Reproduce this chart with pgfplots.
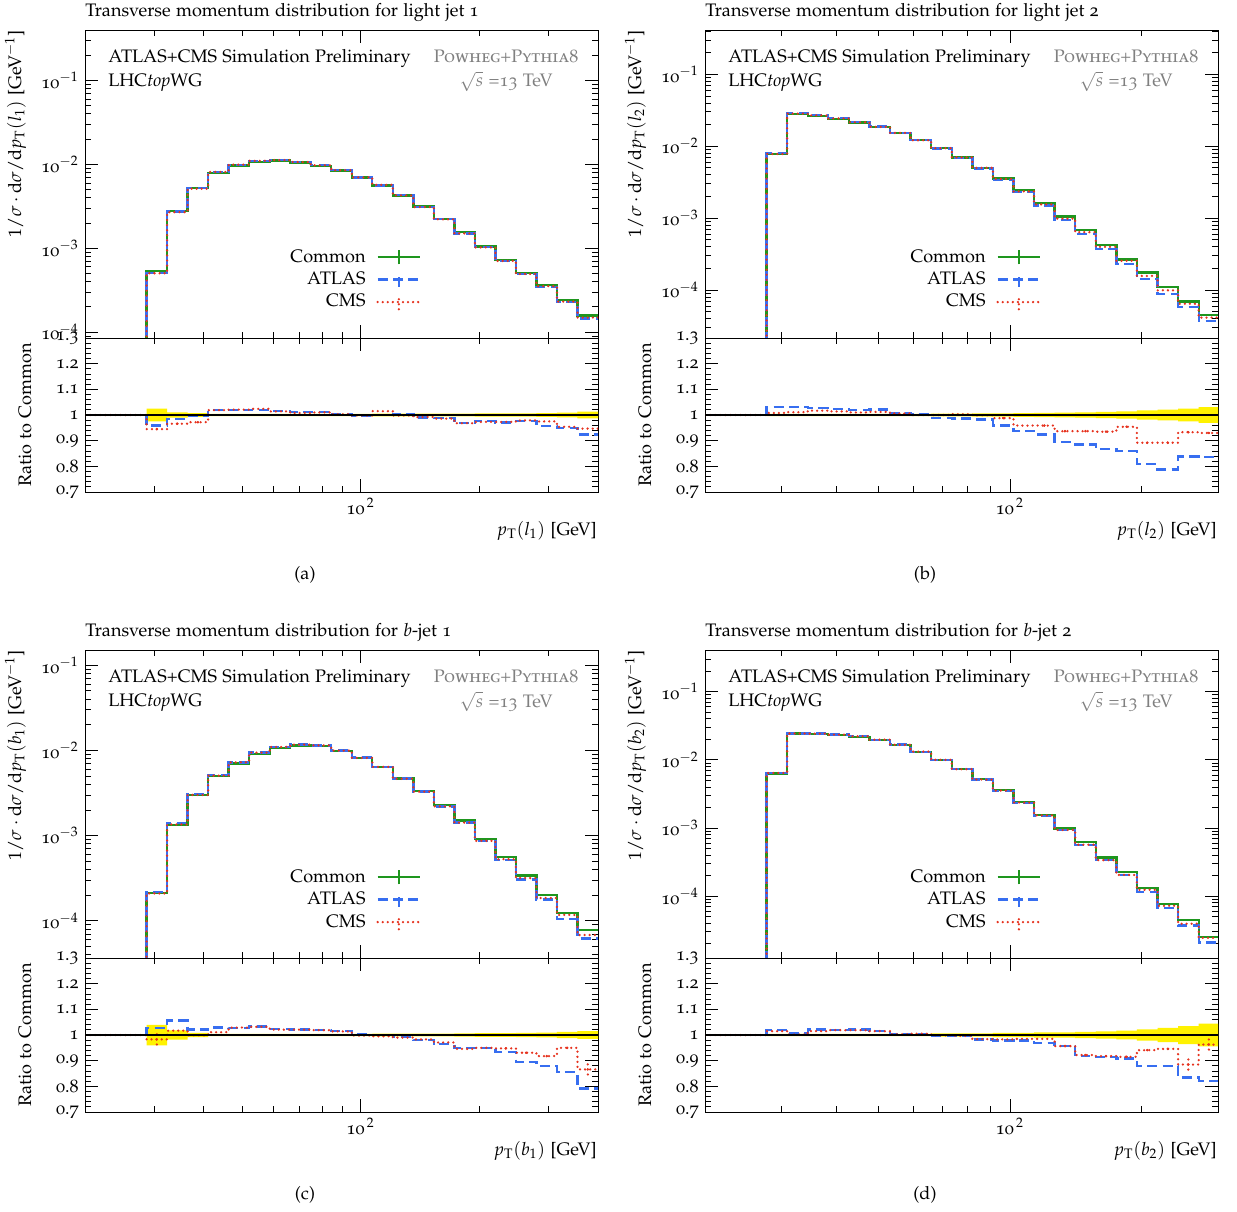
\documentclass[border=0pt]{standalone}
\usepackage[T1]{fontenc}
\usepackage[osf,sc]{mathpazo}
\usepackage{pgfplots}
\usepackage{pgfplotstable}
\pgfplotsset{compat=1.18}

\definecolor{cgreen}{RGB}{30,150,30}
\definecolor{cblue}{RGB}{55,110,240}
\definecolor{cred}{RGB}{230,50,30}
\definecolor{cgray}{RGB}{128,128,128}

% ---------------- data: light jet 1 ----------------
\pgfplotstableread{
x c a m
28.65 1e-9 1e-9 1e-9
28.65 5.32e-4 5.10e-4 5.03e-4
32.30 2.78e-3 2.74e-3 2.69e-3
36.41 5.27e-3 5.25e-3 5.12e-3
41.05 7.96e-3 8.11e-3 8.11e-3
46.27 9.73e-3 9.91e-3 9.93e-3
52.16 1.076e-2 1.096e-2 1.102e-2
58.80 1.107e-2 1.124e-2 1.123e-2
66.29 1.057e-2 1.070e-2 1.065e-2
74.73 9.64e-3 9.76e-3 9.74e-3
84.24 8.48e-3 8.50e-3 8.51e-3
94.97 7.00e-3 6.99e-3 6.99e-3
107.06 5.62e-3 5.62e-3 5.70e-3
120.69 4.27e-3 4.28e-3 4.26e-3
136.05 3.13e-3 3.10e-3 3.10e-3
153.37 2.24e-3 2.22e-3 2.21e-3
172.90 1.55e-3 1.50e-3 1.50e-3
194.91 1.05e-3 1.026e-3 1.022e-3
219.72 7.26e-4 7.05e-4 7.06e-4
247.69 5.04e-4 4.92e-4 4.93e-4
279.22 3.62e-4 3.46e-4 3.53e-4
314.77 2.42e-4 2.30e-4 2.31e-4
354.84 1.57e-4 1.45e-4 1.49e-4
400 1.57e-4 1.45e-4 1.49e-4
}\mainA
\pgfplotstableread{
x ra rm
20 1 1
28.65 0.959 0.945
32.30 0.985 0.966
36.41 0.997 0.972
41.05 1.019 1.019
46.27 1.019 1.021
52.16 1.019 1.024
58.80 1.015 1.014
66.29 1.012 1.008
74.73 1.012 1.010
84.24 1.002 1.003
94.97 0.998 0.998
107.06 1.000 1.015
120.69 1.002 0.998
136.05 0.990 0.992
153.37 0.989 0.986
172.90 0.968 0.968
194.91 0.977 0.973
219.72 0.971 0.973
247.69 0.976 0.979
279.22 0.957 0.975
314.77 0.949 0.954
354.84 0.924 0.947
400 0.924 0.947
}\ratA
% ---------------- data: light jet 2 ----------------
\pgfplotstableread{
x c a m
27.68 1e-9 1e-9 1e-9
27.68 7.74e-3 7.99e-3 7.80e-3
30.85 2.81e-2 2.90e-2 2.84e-2
34.39 2.64e-2 2.71e-2 2.68e-2
38.34 2.40e-2 2.46e-2 2.43e-2
42.74 2.13e-2 2.17e-2 2.15e-2
47.64 1.84e-2 1.88e-2 1.86e-2
53.11 1.52e-2 1.53e-2 1.53e-2
59.20 1.21e-2 1.21e-2 1.21e-2
65.99 9.38e-3 9.28e-3 9.38e-3
73.57 6.96e-3 6.86e-3 6.98e-3
82.01 5.00e-3 4.92e-3 5.00e-3
91.42 3.55e-3 3.40e-3 3.51e-3
101.91 2.45e-3 2.30e-3 2.35e-3
113.60 1.62e-3 1.50e-3 1.55e-3
126.64 1.05e-3 9.41e-4 9.84e-4
141.17 6.81e-4 6.03e-4 6.38e-4
157.36 4.26e-4 3.70e-4 3.98e-4
175.42 2.67e-4 2.29e-4 2.55e-4
195.55 1.76e-4 1.42e-4 1.57e-4
217.99 1.11e-4 8.75e-5 9.90e-5
243.00 6.89e-5 5.78e-5 6.43e-5
270.88 4.45e-5 3.72e-5 4.14e-5
300 4.45e-5 3.72e-5 4.14e-5
}\mainB
\pgfplotstableread{
x ra rm
20 1 1
27.68 1.032 1.008
30.85 1.032 1.011
34.39 1.027 1.017
38.34 1.024 1.014
42.74 1.020 1.010
47.64 1.021 1.012
53.11 1.008 1.006
59.20 1.002 1.000
65.99 0.989 1.000
73.57 0.986 1.003
82.01 0.983 0.999
91.42 0.959 0.988
101.91 0.937 0.959
113.60 0.924 0.959
126.64 0.896 0.937
141.17 0.885 0.937
157.36 0.868 0.935
175.42 0.859 0.954
195.55 0.808 0.892
217.99 0.788 0.892
243.00 0.839 0.933
270.88 0.837 0.930
300 0.837 0.930
}\ratB
% ---------------- data: b-jet 1 ----------------
\pgfplotstableread{
x c a m
28.65 1e-9 1e-9 1e-9
28.65 2.13e-4 2.19e-4 2.09e-4
32.30 1.33e-3 1.40e-3 1.35e-3
36.41 3.00e-3 3.06e-3 3.00e-3
41.05 5.00e-3 5.15e-3 5.06e-3
46.27 7.05e-3 7.24e-3 7.25e-3
52.16 9.14e-3 9.44e-3 9.43e-3
58.80 1.075e-2 1.101e-2 1.098e-2
66.29 1.146e-2 1.170e-2 1.170e-2
74.73 1.125e-2 1.146e-2 1.146e-2
84.24 9.82e-3 9.98e-3 9.96e-3
94.97 8.20e-3 8.22e-3 8.18e-3
107.06 6.44e-3 6.43e-3 6.41e-3
120.69 4.70e-3 4.67e-3 4.65e-3
136.05 3.34e-3 3.28e-3 3.28e-3
153.37 2.27e-3 2.19e-3 2.20e-3
172.90 1.50e-3 1.42e-3 1.42e-3
194.91 9.14e-4 8.68e-4 8.68e-4
219.72 5.57e-4 5.20e-4 5.28e-4
247.69 3.40e-4 3.05e-4 3.17e-4
279.22 2.02e-4 1.78e-4 1.85e-4
314.77 1.23e-4 1.05e-4 1.17e-4
354.84 7.85e-5 6.21e-5 6.80e-5
400 7.85e-5 6.21e-5 6.80e-5
}\mainC
\pgfplotstableread{
x ra rm
20 1 1
28.65 1.028 0.983
32.30 1.056 1.017
36.41 1.021 0.999
41.05 1.029 1.011
46.27 1.027 1.029
52.16 1.033 1.032
58.80 1.024 1.021
66.29 1.021 1.021
74.73 1.019 1.019
84.24 1.016 1.014
94.97 1.002 0.998
107.06 0.999 0.995
120.69 0.993 0.990
136.05 0.981 0.983
153.37 0.964 0.971
172.90 0.949 0.946
194.91 0.950 0.950
219.72 0.933 0.948
247.69 0.896 0.931
279.22 0.879 0.918
314.77 0.856 0.950
354.84 0.791 0.866
400 0.791 0.866
}\ratC
% ---------------- data: b-jet 2 ----------------
\pgfplotstableread{
x c a m
27.68 1e-9 1e-9 1e-9
27.68 6.31e-3 6.43e-3 6.40e-3
30.85 2.43e-2 2.44e-2 2.43e-2
34.39 2.38e-2 2.43e-2 2.42e-2
38.34 2.30e-2 2.34e-2 2.34e-2
42.74 2.17e-2 2.22e-2 2.21e-2
47.64 1.94e-2 1.97e-2 1.97e-2
53.11 1.66e-2 1.67e-2 1.66e-2
59.20 1.31e-2 1.31e-2 1.32e-2
65.99 1.00e-2 9.95e-3 9.99e-3
73.57 7.30e-3 7.26e-3 7.28e-3
82.01 5.21e-3 5.12e-3 5.13e-3
91.42 3.60e-3 3.52e-3 3.54e-3
101.91 2.40e-3 2.35e-3 2.36e-3
113.60 1.55e-3 1.50e-3 1.53e-3
126.64 9.78e-4 9.36e-4 9.36e-4
141.17 6.17e-4 5.66e-4 5.69e-4
157.36 3.68e-4 3.37e-4 3.38e-4
175.42 2.24e-4 2.04e-4 2.05e-4
195.55 1.32e-4 1.16e-4 1.24e-4
217.99 7.64e-5 6.72e-5 7.23e-5
243.00 4.46e-5 3.72e-5 3.95e-5
270.88 2.54e-5 2.09e-5 2.45e-5
300 2.54e-5 2.09e-5 2.45e-5
}\mainD
\pgfplotstableread{
x ra rm
20 1 1
27.68 1.019 1.015
30.85 1.006 1.002
34.39 1.021 1.015
38.34 1.019 1.019
42.74 1.021 1.019
47.64 1.016 1.015
53.11 1.005 1.003
59.20 1.002 1.005
65.99 0.995 0.999
73.57 0.995 0.997
82.01 0.983 0.984
91.42 0.979 0.983
101.91 0.979 0.985
113.60 0.970 0.985
126.64 0.957 0.957
141.17 0.918 0.922
157.36 0.915 0.918
175.42 0.909 0.915
195.55 0.879 0.941
217.99 0.879 0.946
243.00 0.834 0.885
270.88 0.821 0.963
300 0.821 0.963
}\ratD

\tikzset{
  linecommon/.style={const plot, color=cgreen, line width=1.3pt},
  lineatlas/.style={const plot, color=cblue, line width=1.3pt, dash pattern=on 5.5pt off 3pt},
  linecms/.style={const plot, color=cred, line width=1.4pt, line cap=round, dash pattern=on 0pt off 2.8pt},
}
\pgfplotsset{
  cmserr/.style={draw=none, mark=none, forget plot,
    error bars/.cd, y dir=both, y explicit, error mark=none,
    error bar style={draw=cred, line width=1.4pt, line cap=round, dash pattern=on 0pt off 2.8pt}},
}

% main axis: #1 xmax, #2 ymin, #3 ymax, #4 position, #5 body
\newcommand\MainAxis[5]{%
\begin{axis}[scale only axis, width=283.69pt, height=170.32pt,
  xmode=log, ymode=log, xmin=20, xmax=#1, ymin=#2, ymax=#3,
  at={#4}, anchor=north west, tick align=inside,
  major tick length=7pt, minor tick length=3.5pt,
  tick style={line width=0.45pt, black}, axis line style={line width=0.55pt},
  xtick={100}, minor xtick={30,40,50,60,70,80,90,200,300},
  xticklabels={}, log basis y=10,
  yticklabel={10$^{\pgfmathprintnumber{\tick}}$},
  legend style={at={(0.667,0.312)}, anchor=north east, draw=none, fill=none,
    row sep=0pt, /tikz/column sep=4pt},
  legend cell align=right, legend plot pos=right,
  legend image code/.code={\draw[##1] (0pt,0pt) -- (23.5pt,0pt);
    \draw[##1] (11.75pt,-4pt) -- (11.75pt,4pt);}]
#5
\node[anchor=base west, inner sep=0pt] at (rel axis cs:0.0448,0.893) {ATLAS+CMS Simulation Preliminary};
\node[anchor=base west, inner sep=0pt] at (rel axis cs:0.0448,0.817) {LHC\textit{top}WG};
\node[anchor=base, text=cgray] at (rel axis cs:0.821,0.893) {\textsc{Powheg+Pythia8}};
\node[anchor=base, text=cgray] at (rel axis cs:0.821,0.815) {$\sqrt{s}$ =13 TeV};
\end{axis}}

% ratio axis: #1 xmax, #2 position, #3 body
\newcommand\RatioAxis[3]{%
\begin{axis}[scale only axis, width=283.69pt, height=85.16pt,
  xmode=log, xmin=20, xmax=#1, ymin=0.7, ymax=1.3,
  at={#2}, anchor=north west, tick align=inside,
  major tick length=7pt, minor tick length=3.5pt,
  tick style={line width=0.45pt, black}, axis line style={line width=0.55pt},
  ytick={0.7,0.8,0.9,1,1.1,1.2,1.3}, minor y tick num=4,
  yticklabel={\pgfmathprintnumber[assume math mode=true]{\tick}},
  xtick={100}, minor xtick={30,40,50,60,70,80,90,200,300},
  log basis x=10,
  xticklabel={10$^{\,\pgfmathprintnumber{\tick}}$}]
#3
\addplot[black, line width=0.7pt] coordinates {(20,1) (#1,1)};
\end{axis}}

\begin{document}
\begin{tikzpicture}
\useasboundingbox (0,0) rectangle (684.06pt,-669.68pt);

% ===== (a) =====
\MainAxis{400}{8.5e-5}{0.40}{(47.005pt,-16.59pt)}{%
\addplot[linecommon] table[x=x,y=c]{\mainA}; \addlegendentry{Common}
\addplot[lineatlas] table[x=x,y=a]{\mainA}; \addlegendentry{ATLAS}
\addplot[linecms] table[x=x,y=m]{\mainA}; \addlegendentry{CMS}
}
\RatioAxis{400}{(47.005pt,-186.914pt)}{%
\addplot[fill=yellow, draw=none] coordinates {(28.65,1.025) (32.30,1.025) (32.30,1.010) (36.41,1.010) (36.41,1.007) (41.05,1.007) (41.05,1.004) (107.06,1.004) (107.06,1.005) (194.91,1.005) (194.91,1.006) (279.22,1.006) (279.22,1.007) (314.77,1.007) (314.77,1.009) (354.84,1.009) (354.84,1.013) (400,1.013)
 (400,0.987) (354.84,0.987) (354.84,0.991) (314.77,0.991) (314.77,0.993) (279.22,0.993) (279.22,0.994) (194.91,0.994) (194.91,0.995) (107.06,0.995) (107.06,0.996) (41.05,0.996) (41.05,0.993) (36.41,0.993) (36.41,0.990) (32.30,0.990) (32.30,0.975) (28.65,0.975)};
\addplot[lineatlas] table[x=x,y=ra]{\ratA};
\addplot[linecms] table[x=x,y=rm]{\ratA};
\addplot[cmserr] coordinates {(30.42,0.945) +- (0,0.015) (34.30,0.966) +- (0,0.008) (38.66,0.972) +- (0,0.006)};
}

% ===== (b) =====
\MainAxis{300}{2.15e-5}{0.413}{(389.865pt,-16.59pt)}{%
\addplot[linecommon] table[x=x,y=c]{\mainB}; \addlegendentry{Common}
\addplot[lineatlas] table[x=x,y=a]{\mainB}; \addlegendentry{ATLAS}
\addplot[linecms] table[x=x,y=m]{\mainB}; \addlegendentry{CMS}
}
\RatioAxis{300}{(389.865pt,-186.914pt)}{%
\addplot[fill=yellow, draw=none] coordinates {(27.68,1.004) (65.99,1.004) (65.99,1.005) (82.01,1.005) (82.01,1.006) (101.91,1.006) (101.91,1.007) (113.60,1.007) (113.60,1.008) (126.64,1.008) (126.64,1.009) (141.17,1.009) (141.17,1.010) (157.36,1.010) (157.36,1.012) (175.42,1.012) (175.42,1.014) (195.55,1.014) (195.55,1.018) (217.99,1.018) (217.99,1.021) (243.00,1.021) (243.00,1.025) (270.88,1.025) (270.88,1.031) (300,1.031)
 (300,0.969) (270.88,0.969) (270.88,0.975) (243.00,0.975) (243.00,0.979) (217.99,0.979) (217.99,0.982) (195.55,0.982) (195.55,0.986) (175.42,0.986) (175.42,0.988) (157.36,0.988) (157.36,0.990) (141.17,0.990) (141.17,0.991) (126.64,0.991) (126.64,0.992) (113.60,0.992) (113.60,0.993) (101.91,0.993) (101.91,0.994) (82.01,0.994) (82.01,0.995) (65.99,0.995) (65.99,0.996) (27.68,0.996)};
\addplot[lineatlas] table[x=x,y=ra]{\ratB};
\addplot[linecms] table[x=x,y=rm]{\ratB};
\addplot[cmserr] coordinates {(96.5,0.988) +- (0,0.005) (119.9,0.959) +- (0,0.006) (133.7,0.937) +- (0,0.006) (149.0,0.937) +- (0,0.007) (166.1,0.935) +- (0,0.008) (185.2,0.954) +- (0,0.010) (206.4,0.892) +- (0,0.012) (230.1,0.892) +- (0,0.012) (256.5,0.933) +- (0,0.015) (285.9,0.930) +- (0,0.015)};
}

% ===== (c) =====
\MainAxis{400}{3.65e-5}{0.151}{(47.005pt,-359.45pt)}{%
\addplot[linecommon] table[x=x,y=c]{\mainC}; \addlegendentry{Common}
\addplot[lineatlas] table[x=x,y=a]{\mainC}; \addlegendentry{ATLAS}
\addplot[linecms] table[x=x,y=m]{\mainC}; \addlegendentry{CMS}
}
\RatioAxis{400}{(47.005pt,-529.774pt)}{%
\addplot[fill=yellow, draw=none] coordinates {(28.65,1.040) (32.30,1.040) (32.30,1.018) (36.41,1.018) (36.41,1.008) (41.05,1.008) (41.05,1.004) (107.06,1.004) (107.06,1.005) (172.90,1.005) (172.90,1.006) (194.91,1.006) (194.91,1.007) (247.69,1.007) (247.69,1.008) (279.22,1.008) (279.22,1.009) (314.77,1.009) (314.77,1.012) (354.84,1.012) (354.84,1.015) (400,1.015)
 (400,0.985) (354.84,0.985) (354.84,0.988) (314.77,0.988) (314.77,0.991) (279.22,0.991) (279.22,0.992) (247.69,0.992) (247.69,0.993) (194.91,0.993) (194.91,0.994) (172.90,0.994) (172.90,0.995) (107.06,0.995) (107.06,0.996) (41.05,0.996) (41.05,0.992) (36.41,0.992) (36.41,0.982) (32.30,0.982) (32.30,0.960) (28.65,0.960)};
\addplot[lineatlas] table[x=x,y=ra]{\ratC};
\addplot[linecms] table[x=x,y=rm]{\ratC};
\addplot[cmserr] coordinates {(30.42,0.983) +- (0,0.025) (233.3,0.948) +- (0,0.008) (263.0,0.931) +- (0,0.010) (296.5,0.918) +- (0,0.012) (334.2,0.950) +- (0,0.015) (376.8,0.866) +- (0,0.030)};
}

% ===== (d) =====
\MainAxis{300}{1.24e-5}{0.407}{(389.865pt,-359.45pt)}{%
\addplot[linecommon] table[x=x,y=c]{\mainD}; \addlegendentry{Common}
\addplot[lineatlas] table[x=x,y=a]{\mainD}; \addlegendentry{ATLAS}
\addplot[linecms] table[x=x,y=m]{\mainD}; \addlegendentry{CMS}
}
\RatioAxis{300}{(389.865pt,-529.774pt)}{%
\addplot[fill=yellow, draw=none] coordinates {(27.68,1.004) (65.99,1.004) (65.99,1.006) (91.42,1.006) (91.42,1.008) (113.60,1.008) (113.60,1.010) (141.17,1.010) (141.17,1.012) (157.36,1.012) (157.36,1.014) (175.42,1.014) (175.42,1.017) (195.55,1.017) (195.55,1.022) (217.99,1.022) (217.99,1.028) (243.00,1.028) (243.00,1.035) (270.88,1.035) (270.88,1.044) (300,1.044)
 (300,0.956) (270.88,0.956) (270.88,0.965) (243.00,0.965) (243.00,0.972) (217.99,0.972) (217.99,0.978) (195.55,0.978) (195.55,0.983) (175.42,0.983) (175.42,0.986) (157.36,0.986) (157.36,0.988) (141.17,0.988) (141.17,0.990) (113.60,0.990) (113.60,0.992) (91.42,0.992) (91.42,0.994) (65.99,0.994) (65.99,0.996) (27.68,0.996)};
\addplot[lineatlas] table[x=x,y=ra]{\ratD};
\addplot[linecms] table[x=x,y=rm]{\ratD};
\addplot[cmserr] coordinates {(133.7,0.957) +- (0,0.008) (149.0,0.922) +- (0,0.010) (166.1,0.918) +- (0,0.010) (185.2,0.915) +- (0,0.012) (206.4,0.941) +- (0,0.015) (230.1,0.946) +- (0,0.015) (256.5,0.885) +- (0,0.025) (285.9,0.963) +- (0,0.020)};
}

% ===== labels =====
\begin{scope}[x=0.553pt, y=-0.553pt]
\foreach \dx/\dy/\ttl/\var/\cp in {0/0/{light jet 1}/{l_1}/a, 620/0/{light jet 2}/{l_2}/b, 0/620/{$b$-jet 1}/{b_1}/c, 620/620/{$b$-jet 2}/{b_2}/d}{
  \node[anchor=base west, inner sep=0pt] at (85+\dx,16+\dy) {Transverse momentum distribution for \ttl};
  \node[rotate=90, anchor=base east, inner sep=0pt] at (21+\dx,30+\dy) {$1/\sigma\cdot\mathrm{d}\sigma/\mathrm{d}p_\mathrm{T}(\var)$ [GeV$^{-1}$]};
  \node[rotate=90, anchor=base, inner sep=0pt] at (31+\dx,415+\dy) {Ratio to Common};
  \node[anchor=base east, inner sep=0pt] at (597+\dx,535+\dy) {$p_\mathrm{T}(\var)$ [GeV]};
  \node[anchor=base, inner sep=0pt] at (305+\dx,579+\dy) {(\cp)};
}
\end{scope}
\end{tikzpicture}
\end{document}
